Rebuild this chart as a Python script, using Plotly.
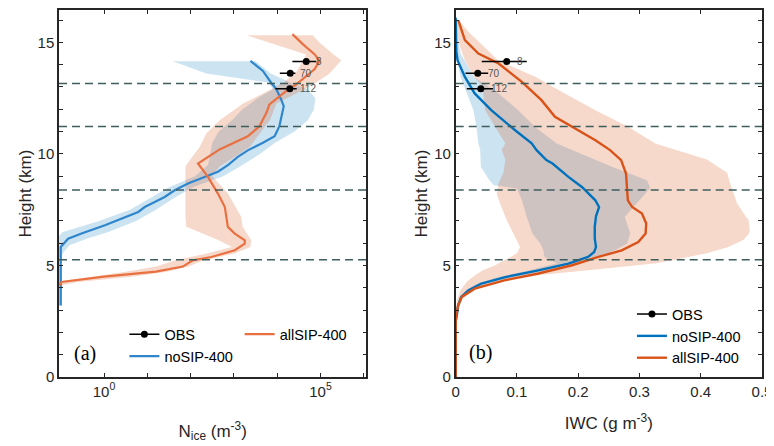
import plotly.graph_objects as go

# ---------------- data ----------------
# Panel (a): N_ice profiles (values stored as log10 of m^-3)
nosip_n_h = [14.17, 13.72, 13.19, 12.9, 12.44, 12.14, 11.24, 10.79, 10.5, 10.17, 9.87, 9.5, 9.2, 8.97,
             8.67, 8.37, 8.07, 7.77, 7.62, 7.4, 7.1, 6.8, 6.43, 6.2, 5.83, 5.0, 4.0, 3.2]
nosip_n_log = [3.38, 3.67, 3.86, 3.98, 4.09, 4.15, 4.05, 3.94, 3.67, 3.33, 3.09, 2.86, 2.63, 2.33,
               1.94, 1.63, 1.4, 1.09, 0.94, 0.79, 0.4, 0.02, -0.52, -0.83, -1.0, -1.0, -1.0, -1.0]
nosip_n_band_h = [14.15, 13.6, 13.2, 12.9, 12.5, 12.0, 11.5, 11.0, 10.5, 10.0, 9.5, 9.0, 8.5, 8.0,
                  7.5, 7.0, 6.5, 6.2, 5.9, 5.5, 5.0, 4.0, 3.2]
nosip_n_band_lo = [1.59, 2.36, 3.8, 3.9, 3.55, 3.2, 2.95, 2.65, 2.5, 2.45, 2.4, 2.1, 1.5, 1.05,
                   0.6, -0.1, -0.95, -1.1, -1.1, -1.1, -1.1, -1.1, -1.1]
nosip_n_band_hi = [3.5, 3.85, 4.3, 4.7, 4.88, 4.85, 4.7, 4.4, 3.95, 3.6, 3.2, 2.75, 2.05, 1.6,
                   1.2, 0.75, 0.1, -0.4, -0.8, -0.97, -0.98, -0.98, -0.98]

allsip_n_h = [15.37, 14.92, 14.47, 14.17, 13.79, 13.49, 13.12, 12.82, 12.59, 12.22, 11.84, 11.24,
              10.79, 10.49, 10.2, 9.57, 8.97, 8.22, 7.62, 6.73, 6.43, 6.13, 5.98, 5.68, 5.38, 5.23,
              4.95, 4.72, 4.5, 4.26, 4.1]
allsip_n_log = [4.35, 4.59, 4.86, 4.98, 4.86, 4.67, 4.44, 4.21, 4.05, 3.82, 3.75, 3.59,
                3.32, 2.98, 2.67, 2.17, 2.4, 2.63, 2.79, 2.86, 3.02, 3.25, 3.25, 3.02, 2.48, 2.05,
                1.82, 1.2, 0.0, -0.98, -1.03]
allsip_n_band_h = [15.32, 15.0, 14.45, 14.2, 13.6, 13.2, 12.86, 12.26, 11.84, 11.51, 10.91, 10.31,
                   9.72, 9.45, 9.0, 8.22, 7.17, 6.73, 6.13, 5.83, 5.53, 5.23, 4.95, 4.72, 4.48, 4.26, 4.1]
allsip_n_band_lo = [3.29, 3.8, 4.67, 4.6, 4.42, 4.14, 3.83, 3.21, 2.9, 2.67, 2.36, 2.21,
                    1.98, 1.88, 1.88, 1.88, 1.88, 1.9, 2.65, 2.95, 2.35, 1.65, 1.2, 0.5, -0.4, -1.1, -1.1]
allsip_n_band_hi = [4.82, 4.97, 5.3, 5.48, 5.21, 4.9, 4.6, 3.98, 3.9, 3.83, 3.6, 3.36,
                    2.9, 2.67, 2.5, 2.86, 3.17, 3.2, 3.4, 3.38, 3.0, 2.3, 1.95, 1.45, 0.6, -0.6, -1.0]

# Panel (b): IWC profiles (g m^-3)
nosip_iwc_h = [16.1, 15.5, 14.6, 14.2, 13.45, 12.71, 11.96, 11.06, 10.47, 10.17, 9.72, 9.57, 8.97,
               8.52, 7.92, 7.62, 7.2, 6.73, 6.2, 5.83, 5.6, 5.38, 5.08, 4.78, 4.48, 4.19, 3.89, 3.59,
               3.2, 2.8, 2.5, 0.0]
nosip_iwc = [0.0, 0.0, 0.001, 0.003, 0.015, 0.031, 0.058, 0.097, 0.124, 0.132, 0.148, 0.158, 0.184,
             0.206, 0.228, 0.234, 0.229, 0.227, 0.227, 0.229, 0.226, 0.216, 0.184, 0.135, 0.081, 0.042,
             0.021, 0.009, 0.004, 0.002, 0.0, 0.0]
nosip_iwc_band_h = [16.0, 15.0, 14.5, 13.45, 13.16, 12.71, 11.96, 11.2, 10.47, 10.17, 9.72, 9.42,
                    8.82, 8.6, 8.45, 7.92, 7.17, 6.44, 5.98, 5.68, 5.38, 5.1, 4.78, 4.48, 4.19, 3.89,
                    3.59, 3.2, 2.8]
nosip_iwc_band_lo = [0.0, 0.0, 0.0, 0.008, 0.012, 0.019, 0.029, 0.034, 0.037, 0.04, 0.041, 0.041,
                     0.055, 0.062, 0.1, 0.108, 0.116, 0.125, 0.138, 0.143, 0.145, 0.165, 0.12, 0.07,
                     0.035, 0.017, 0.007, 0.002, 0.0]
nosip_iwc_band_hi = [0.001, 0.004, 0.008, 0.03, 0.045, 0.07, 0.102, 0.13, 0.165, 0.19, 0.23, 0.255,
                     0.312, 0.316, 0.317, 0.3, 0.276, 0.285, 0.28, 0.26, 0.235, 0.2, 0.15, 0.095,
                     0.05, 0.026, 0.012, 0.005, 0.001]

allsip_iwc_h = [15.97, 15.1, 14.5, 14.05, 13.23, 12.41, 11.66, 11.21, 10.61, 10.17, 9.72, 9.12, 8.5,
                7.92, 7.62, 7.33, 6.88, 6.43, 6.05, 5.68, 5.38, 5.01, 4.64, 4.34, 3.96, 3.59, 3.2, 2.8,
                2.5, 0.0]
allsip_iwc = [0.0044, 0.015, 0.037, 0.07, 0.108, 0.14, 0.162, 0.19, 0.228, 0.252, 0.27, 0.278, 0.28,
              0.281, 0.288, 0.304, 0.311, 0.31, 0.298, 0.271, 0.233, 0.19, 0.135, 0.081, 0.031, 0.01,
              0.004, 0.001, 0.0, 0.0]
allsip_iwc_band_h = [16.0, 15.5, 14.95, 14.2, 13.46, 13.16, 12.71, 11.96, 11.21, 10.47, 10.17, 9.75,
                     9.15, 8.68, 8.4, 8.2, 7.8, 7.17, 7.05, 6.6, 6.44, 6.15, 5.83, 5.55, 5.38, 5.1,
                     5.0, 4.8, 4.57, 4.27, 3.9, 3.45, 3.0]
allsip_iwc_band_lo = [0.0, 0.002, 0.005, 0.015, 0.03, 0.04, 0.045, 0.048, 0.064, 0.081, 0.075, 0.081,
                      0.078, 0.07, 0.068, 0.067, 0.072, 0.081, 0.083, 0.091, 0.094, 0.1, 0.105, 0.1,
                      0.09, 0.07, 0.064, 0.045, 0.032, 0.018, 0.008, 0.002, 0.0]
allsip_iwc_band_hi = [0.005, 0.02, 0.04, 0.069, 0.13, 0.15, 0.178, 0.228, 0.282, 0.326, 0.36, 0.41,
                      0.443, 0.448, 0.451, 0.454, 0.459, 0.474, 0.478, 0.48, 0.479, 0.47, 0.445, 0.41,
                      0.38, 0.328, 0.3, 0.22, 0.138, 0.072, 0.029, 0.007, 0.001]

# Observations
obs_h = [14.14, 13.62, 12.92]
obs_n_log = [4.67, 4.30, 4.29]
obs_n_lo_log = [4.35, 4.06, 3.96]
obs_n_hi_log = [4.90, 4.42, 4.45]
obs_iwc = [0.0833, 0.036, 0.041]
obs_iwc_lo = [0.0425, 0.016, 0.018]
obs_iwc_hi = [0.116, 0.053, 0.061]
obs_counts = ["8", "70", "112"]

dashed_heights = [13.15, 11.23, 8.38, 5.26]

height_major = [0, 5, 10, 15]
height_minor = list(range(0, 17))
nice_major_exp = [0, 5]
nice_minor_exp = [0, 1, 2, 3, 4, 5, 6]
iwc_ticks = [0, 0.1, 0.2, 0.3, 0.4, 0.5]
iwc_labels = ["0", "0.1", "0.2", "0.3", "0.4", "0.5"]

# ---------------- styling ----------------
BLUE_A = "#2F86CC"
ORANGE_A = "#E97141"
BLUE_B = "#0072BD"
ORANGE_B = "#D95319"
BAND_BLUE = "rgba(0,114,189,0.20)"
BAND_ORANGE = "rgba(217,83,25,0.22)"
AX = "#262626"
FONT = "Liberation Sans, Arial, sans-serif"


def p10(v):
    return [10 ** t for t in v]


def band(lo, hi, h):
    return lo + hi[::-1], h + h[::-1]


fig = go.Figure()

# ---- panel (a) ----
bx, by = band(p10(nosip_n_band_lo), p10(nosip_n_band_hi), nosip_n_band_h)
fig.add_trace(go.Scatter(x=bx, y=by, fill="toself", fillcolor=BAND_BLUE, line=dict(width=0),
                         mode="lines", hoverinfo="skip", showlegend=False, xaxis="x", yaxis="y"))
bx, by = band(p10(allsip_n_band_lo), p10(allsip_n_band_hi), allsip_n_band_h)
fig.add_trace(go.Scatter(x=bx, y=by, fill="toself", fillcolor=BAND_ORANGE, line=dict(width=0),
                         mode="lines", hoverinfo="skip", showlegend=False, xaxis="x", yaxis="y"))
fig.add_trace(go.Scatter(x=p10(nosip_n_log), y=nosip_n_h, mode="lines",
                         line=dict(color=BLUE_A, width=2.2), name="noSIP-400",
                         legend="legend", legendrank=2, xaxis="x", yaxis="y"))
fig.add_trace(go.Scatter(x=p10(allsip_n_log), y=allsip_n_h, mode="lines",
                         line=dict(color=ORANGE_A, width=2.2), name="allSIP-400",
                         legend="legend2", xaxis="x", yaxis="y"))
obs_n = p10(obs_n_log)
fig.add_trace(go.Scatter(
    x=obs_n, y=obs_h, mode="markers", marker=dict(color="black", size=7),
    error_x=dict(type="data", symmetric=False,
                 array=[h - c for h, c in zip(p10(obs_n_hi_log), obs_n)],
                 arrayminus=[c - l for l, c in zip(p10(obs_n_lo_log), obs_n)],
                 color="black", thickness=1.5, width=0),
    showlegend=False, xaxis="x", yaxis="y"))
fig.add_trace(go.Scatter(x=[None], y=[None], mode="lines+markers", name="OBS",
                         line=dict(color="black", width=1.5), marker=dict(color="black", size=7),
                         legend="legend", legendrank=1, xaxis="x", yaxis="y"))

# ---- panel (b) ----
bx, by = band(nosip_iwc_band_lo, nosip_iwc_band_hi, nosip_iwc_band_h)
fig.add_trace(go.Scatter(x=bx, y=by, fill="toself", fillcolor=BAND_BLUE, line=dict(width=0),
                         mode="lines", hoverinfo="skip", showlegend=False, xaxis="x2", yaxis="y2"))
bx, by = band(allsip_iwc_band_lo, allsip_iwc_band_hi, allsip_iwc_band_h)
fig.add_trace(go.Scatter(x=bx, y=by, fill="toself", fillcolor=BAND_ORANGE, line=dict(width=0),
                         mode="lines", hoverinfo="skip", showlegend=False, xaxis="x2", yaxis="y2"))
fig.add_trace(go.Scatter(x=nosip_iwc, y=nosip_iwc_h, mode="lines",
                         line=dict(color=BLUE_B, width=2.4), name="noSIP-400",
                         legend="legend3", legendrank=2, xaxis="x2", yaxis="y2"))
fig.add_trace(go.Scatter(x=allsip_iwc, y=allsip_iwc_h, mode="lines",
                         line=dict(color=ORANGE_B, width=2.4), name="allSIP-400",
                         legend="legend3", legendrank=3, xaxis="x2", yaxis="y2"))
fig.add_trace(go.Scatter(
    x=obs_iwc, y=obs_h, mode="markers", marker=dict(color="black", size=7),
    error_x=dict(type="data", symmetric=False,
                 array=[h - c for h, c in zip(obs_iwc_hi, obs_iwc)],
                 arrayminus=[c - l for l, c in zip(obs_iwc_lo, obs_iwc)],
                 color="black", thickness=1.5, width=0),
    showlegend=False, xaxis="x2", yaxis="y2"))
fig.add_trace(go.Scatter(x=[None], y=[None], mode="lines+markers", name="OBS",
                         line=dict(color="black", width=1.5), marker=dict(color="black", size=7),
                         legend="legend3", legendrank=1, xaxis="x2", yaxis="y2"))

# dashed reference heights
for xr, yr in (("x domain", "y"), ("x2 domain", "y2")):
    for hd in dashed_heights:
        fig.add_shape(type="line", xref=xr, yref=yr, x0=0, x1=1, y0=hd, y1=hd,
                      line=dict(color="#3E5E5E", width=1.5, dash="8px,5px"), layer="above")

# observation count labels
annotations = []
for c, h, t in zip(obs_n_log, obs_h, obs_counts):
    annotations.append(dict(x=c, y=h, xref="x", yref="y", text=t, showarrow=False,
                            xanchor="left", yanchor="middle", xshift=8,
                            font=dict(size=10, color="#555555")))
for c, h, t in zip(obs_iwc, obs_h, obs_counts):
    annotations.append(dict(x=c, y=h, xref="x2", yref="y2", text=t, showarrow=False,
                            xanchor="left", yanchor="middle", xshift=8,
                            font=dict(size=10, color="#555555")))
annotations.append(dict(x=0.084, y=0.065, xref="x domain", yref="y domain", text="(a)",
                        showarrow=False, xanchor="center", yanchor="middle",
                        font=dict(family="Liberation Serif, Times New Roman, serif",
                                  size=20, color="black")))
annotations.append(dict(x=0.08, y=0.067, xref="x2 domain", yref="y2 domain", text="(b)",
                        showarrow=False, xanchor="center", yanchor="middle",
                        font=dict(family="Liberation Serif, Times New Roman, serif",
                                  size=20, color="black")))

axis_common = dict(showline=True, linecolor=AX, linewidth=1.5, mirror="ticks", ticks="inside",
                   ticklen=4, tickwidth=1.2, tickcolor=AX, showgrid=False, zeroline=False,
                   automargin=False, tickfont=dict(size=15, color=AX))
minor_common = dict(ticks="inside", ticklen=4, tickwidth=1.2, tickcolor=AX, showgrid=False)

nice_text = ["10<sup>%d</sup>" % e for e in nice_major_exp]

legend_common = dict(bgcolor="rgba(0,0,0,0)", borderwidth=0, font=dict(size=14.5, color="black"),
                     orientation="v", xanchor="left", yanchor="top", tracegroupgap=0,
                     itemwidth=30)

# page body adds an 8px margin, so the figure is 8px smaller and shifted margins compensate
fig.update_layout(
    width=766, height=438,
    margin=dict(l=51, r=12, t=2, b=69, autoexpand=False),
    paper_bgcolor="white", plot_bgcolor="white",
    font=dict(family=FONT, size=15, color=AX),
    xaxis=dict(domain=[0, 0.4373], type="log", range=[-1.04, 6.06], anchor="y",
               tickvals=p10(nice_major_exp), ticktext=nice_text,
               minor=dict(tickvals=p10(nice_minor_exp), **minor_common),
               title=dict(text="N<sub>ice</sub> (m<sup>-3</sup>)", font=dict(size=17), standoff=26),
               **axis_common),
    yaxis=dict(domain=[0, 1], range=[0, 16.45], anchor="x", tickvals=height_major,
               minor=dict(tickvals=height_minor, **minor_common),
               title=dict(text="Height (km)", font=dict(size=17), standoff=2), **axis_common),
    xaxis2=dict(domain=[0.5643, 1], range=[0, 0.5], anchor="y2", tickvals=iwc_ticks,
                ticktext=iwc_labels,
                title=dict(text="IWC (g m<sup>-3</sup>)", font=dict(size=17), standoff=18),
                **axis_common),
    yaxis2=dict(domain=[0, 1], range=[0, 16.45], anchor="x2", tickvals=height_major,
                minor=dict(tickvals=height_minor, **minor_common),
                title=dict(text="Height (km)", font=dict(size=17), standoff=2), **axis_common),
    legend=dict(x=0.093, y=0.160, **legend_common),
    legend2=dict(x=0.257, y=0.160, **legend_common),
    legend3=dict(x=0.815, y=0.215, **legend_common),
    annotations=annotations,
    showlegend=True,
)

fig.write_html("out.html")
